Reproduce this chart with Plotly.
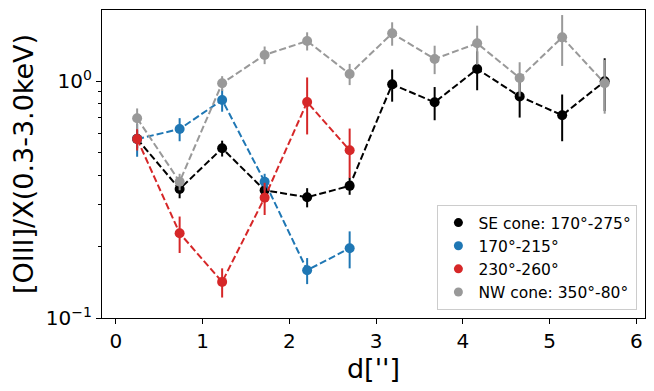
import plotly.graph_objects as go

# radial bins d["]
d = [0.245, 0.735, 1.225, 1.715, 2.205, 2.695, 3.185, 3.675, 4.165, 4.655, 5.145, 5.635]

se_ratio = [0.57, 0.35, 0.52, 0.346, 0.323, 0.361, 0.968, 0.813, 1.124, 0.861, 0.717, 0.997]
se_err = [0.05, 0.03, 0.04, 0.02, 0.03, 0.03, 0.15, 0.13, 0.21, 0.16, 0.16, 0.25]

b_ratio = [0.569, 0.627, 0.832, 0.376, 0.159, 0.197]
b_err = [0.09, 0.07, 0.09, 0.03, 0.02, 0.035]

r_ratio = [0.569, 0.228, 0.142, 0.322, 0.815, 0.51]
r_err = [0.06, 0.04, 0.02, 0.05, 0.22, 0.12]

nw_ratio = [0.696, 0.376, 0.978, 1.288, 1.475, 1.071, 1.589, 1.239, 1.442, 1.03, 1.528, 0.978]
nw_err = [0.07, 0.03, 0.07, 0.11, 0.13, 0.11, 0.18, 0.17, 0.27, 0.17, 0.37, 0.25]

series = [
    ("SE cone: 170°-275°", se_ratio, se_err, "black"),
    ("170°-215°", b_ratio, b_err, "#1f77b4"),
    ("230°-260°", r_ratio, r_err, "#d62728"),
    ("NW cone: 350°-80°", nw_ratio, nw_err, "#999999"),
]

fig = go.Figure()
for name, vals, errs, col in series:
    fig.add_trace(
        go.Scatter(x = d[:len(vals)], y = vals, mode = "lines+markers",
                   line = dict(color = col, width = 2, dash = "7px,3px"),
                   marker = dict(color = col, size = 10),
                   error_y = dict(type = "data", array = errs, color = col,
                                  thickness = 2, width = 0),
                   showlegend = False)
    )
# legend shows dots only
for name, vals, errs, col in series:
    fig.add_trace(
        go.Scatter(x = [None], y = [None], mode = "markers", name = name,
                   marker = dict(color = col, size = 9))
    )

axis_style = dict(showline = True, linecolor = "black", linewidth = 1.2, mirror = True,
                  ticks = "outside", ticklen = 5, tickcolor = "black",
                  showgrid = False, zeroline = False,
                  tickfont = dict(size = 20, color = "black"))

fig.update_xaxes(range = [-0.16, 6.1], tickvals = [0, 1, 2, 3, 4, 5, 6],
                 title = dict(text = "d['']", font = dict(size = 27, color = "black"), standoff = 1),
                 **axis_style)
fig.update_yaxes(type = "log", range = [-1, 0.2996], tickvals = [0.1, 1],
                 ticktext = ["10<sup>−1</sup>", "10<sup>0</sup>"],
                 minor = dict(tickvals = [0.2, 0.3, 0.4, 0.5, 0.6, 0.7, 0.8, 0.9, 2],
                              ticks = "outside", ticklen = 3, tickcolor = "black"),
                 title = dict(text = "[OIII]/X(0.3-3.0keV)", font = dict(size = 27, color = "black"), standoff = 4),
                 **axis_style)

# page body has an 8px margin, so the figure is drawn 8px smaller
fig.update_layout(width = 646, height = 383,
                  margin = dict(l = 94, r = 9, t = 2, b = 73, autoexpand = False),
                  plot_bgcolor = "white", paper_bgcolor = "white",
                  font = dict(family = "DejaVu Sans", color = "black"),
                  legend = dict(x = 0.986, y = 0.026, xanchor = "right", yanchor = "bottom",
                                bgcolor = "rgba(255,255,255,0.8)", bordercolor = "#cccccc",
                                borderwidth = 1, font = dict(size = 15.5)))

fig.write_html("out.html")
